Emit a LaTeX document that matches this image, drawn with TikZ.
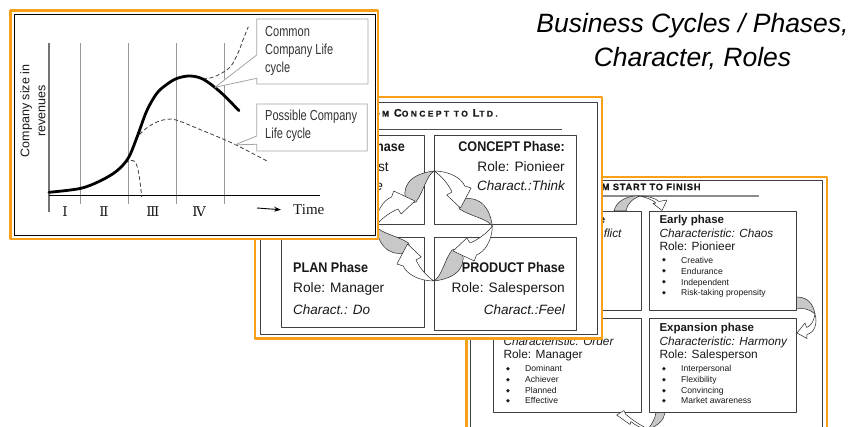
\documentclass[tikz,border=0pt]{standalone}
\usepackage{fontspec}
\setmainfont{Liberation Sans}
\newfontfamily\serifface{Liberation Serif}
\newfontfamily\numeralface{DejaVu Serif}
\newfontfamily\narrowface[FakeStretch=0.76]{Liberation Sans}
\newfontfamily\phaseface[FakeStretch=0.9]{Liberation Sans}
\newfontfamily\capsface[LetterSpace=8,BoldFeatures={FakeBold=0.6}]{Liberation Sans}
\newfontfamily\widecapsface[LetterSpace=28,BoldFeatures={FakeBold=0.8}]{Liberation Sans}
\newfontfamily\symface{DejaVu Sans}
\usetikzlibrary{arrows.meta}
\newcommand\pxfont[1]{\fontsize{#1}{#1}\selectfont}

\definecolor{frameorange}{RGB}{249,160,27}
\definecolor{bandgray}{RGB}{200,200,200}
\definecolor{textdark}{RGB}{25,25,25}
\definecolor{calloutgray}{RGB}{165,165,165}

\tikzset{
  panelframe/.style={draw=frameorange, line width=2.4pt, fill=white},
  panelinner/.style={draw=black!75, line width=0.9pt},
  phasebox/.style={draw=black!75, line width=0.9pt, fill=white},
  txt/.style={inner sep=0pt, text=textdark},
  ribbonback/.style={draw=black!85, line width=0.5pt, fill=bandgray},
  ribbonfront/.style={draw=black!85, line width=0.5pt, fill=white},
  bulletmark/.style={inner sep=0pt, text=textdark, font=\symface\pxfont{5}},
  itemtext/.style={inner sep=0pt, text=textdark, anchor=mid west, font=\pxfont{8.6}},
  gridline/.style={draw=black!40, line width=0.8pt},
  callout/.style={draw=calloutgray, line width=0.8pt, fill=white},
  growth/.style={line width=2.8pt, line cap=round},
  altpath/.style={draw=black!75, line width=0.8pt, dash pattern=on 4pt off 2.5pt},
  numeral/.style={inner sep=0pt, text=textdark, font=\numeralface\pxfont{13.5}}
}

% one quarter of the four-arrow cycle, drawn for the top-right quarter
\newcommand\cyclequarter[1]{%
  \begin{scope}[rotate=#1]
    \filldraw[ribbonback] (22,25) .. controls (38,32) and (52,24) .. (55,0)
      .. controls (49,8) and (36,9) .. (24,17) -- cycle;
    \filldraw[ribbonfront] (0,55) .. controls (14,55) and (26,48) .. (29,40)
      -- (35,38) -- (25,18) -- (12,31) -- (17,34)
      .. controls (13,43) and (6,51) .. (0,55) -- cycle;
  \end{scope}}

\newcommand\bulletitem[4]{%
  \node[bulletmark] (#1m) at (#2,#3) {◆};
  \node[itemtext] (#1) at (#2+17,#3) {#4};}

\begin{document}
\begin{tikzpicture}[x=1pt,y=-1pt,line join=round]
\useasboundingbox (0,0) rectangle (850,427);
\clip (0,0) rectangle (850,427);
\fill[white] (0,0) rectangle (850,427);

% ---------------- heading ----------------
\node[txt, anchor=base, font=\itshape\pxfont{26.5}, text=black] (head1) at (692.5,33) {Business Cycles / Phases,};
\node[txt, anchor=base, font=\itshape\pxfont{26.5}, text=black] (head2) at (692.5,66.5) {Character, Roles};

% ---------------- slide: from start to finish ----------------
\filldraw[panelframe] (466.5,177) rectangle (827,445);
\draw[panelinner] (470,180.7) rectangle (822.5,445);
\node[txt, anchor=mid east, font=\capsface\bfseries\pxfont{9.3}] (sfTitle) at (700.7,187.5) {FROM START TO FINISH};
\draw[draw=black!45, line width=1.6pt] (520,196) -- (759,196);

\draw[phasebox] (493.3,211) rectangle (641.7,310);
\draw[phasebox] (649.3,211.7) rectangle (796.7,310);
\draw[phasebox] (493.3,318.3) rectangle (641.7,412.7);
\draw[phasebox] (649.3,318.3) rectangle (796.7,412.7);

\node[txt, anchor=mid east, font=\bfseries\pxfont{11.5}] (dcTitle) at (605.5,221) {Decline phase};
\node[txt, anchor=mid east, font=\itshape\pxfont{11.8}] (dcChar) at (621.7,235) {Characteristic: Conflict};

\node[txt, anchor=mid west, font=\bfseries\pxfont{11.5}] (epTitle) at (659.3,221) {Early phase};
\node[txt, anchor=mid west, font=\itshape\pxfont{11.8}] (epChar) at (659.3,235) {Characteristic: Chaos};
\node[txt, anchor=mid west, font=\pxfont{11.9}] (epRole) at (659.3,248.3) {Role: Pionieer};
\bulletitem{ep1}{664}{260.7}{Creative}
\bulletitem{ep2}{664}{271.7}{Endurance}
\bulletitem{ep3}{664}{282.7}{Independent}
\bulletitem{ep4}{664}{293.3}{Risk-taking propensity}

\node[txt, anchor=mid west, font=\bfseries\pxfont{11.5}] (xpTitle) at (659.3,329) {Expansion phase};
\node[txt, anchor=mid west, font=\itshape\pxfont{11.8}] (xpChar) at (659.3,342.7) {Characteristic: Harmony};
\node[txt, anchor=mid west, font=\pxfont{11.9}] (xpRole) at (659.3,356) {Role: Salesperson};
\bulletitem{xp1}{664}{368.7}{Interpersonal}
\bulletitem{xp2}{664}{379.7}{Flexibility}
\bulletitem{xp3}{664}{390.7}{Convincing}
\bulletitem{xp4}{664}{401}{Market awareness}

\node[txt, anchor=mid west, font=\itshape\pxfont{11.8}] (mgChar) at (503.3,342.7) {Characteristic: Order};
\node[txt, anchor=mid west, font=\pxfont{11.9}] (mgRole) at (503.3,356) {Role: Manager};
\bulletitem{mg1}{508}{368.7}{Dominant}
\bulletitem{mg2}{508}{379.7}{Achiever}
\bulletitem{mg3}{508}{390.7}{Planned}
\bulletitem{mg4}{508}{401}{Effective}

% small turning arrows between the phases
\filldraw[ribbonback] (614,211) .. controls (616,201) and (628,195) .. (640,196)
  .. controls (632,199) and (627,204) .. (626,211) -- cycle;
\filldraw[ribbonfront] (640,196) .. controls (648,196) and (655,198) .. (659,201.5)
  -- (667,200) -- (662,210.5) -- (653,203.5) -- (656,203)
  .. controls (652,199.5) and (646,197.5) .. (640,196) -- cycle;
\filldraw[ribbonback] (796.7,297) .. controls (807,297) and (813,303) .. (815,314)
  .. controls (808,308) and (802,308) .. (796.7,309) -- cycle;
\filldraw[ribbonfront] (815,314) .. controls (814,321) and (811,326) .. (806.5,327.5)
  -- (805,323) -- (797,333) -- (807,338.5) -- (806.8,334.5)
  .. controls (814,333) and (818,324) .. (815,314) -- cycle;
\filldraw[ribbonback] (665,412.7) .. controls (664,420) and (658,426) .. (648,429)
  .. controls (652,424) and (655,419) .. (656,412.7) -- cycle;
\filldraw[ribbonfront] (648,429) .. controls (641,429) and (635,425) .. (631,421.5)
  -- (630,424.5) -- (616.7,415) -- (624,410.5) -- (625.5,414)
  .. controls (632,420) and (640,425) .. (648,429) -- cycle;

% ---------------- slide: from concept to Ltd. ----------------
\filldraw[panelframe] (255,97) rectangle (601.7,338.3);
\draw[panelinner] (260.5,102.5) rectangle (597.5,334.3);
\node[txt, anchor=mid east, font=\widecapsface\bfseries] (ccTitle) at (498,114)
  {\pxfont{11}F\pxfont{8.5}ROM \pxfont{11}C\pxfont{8.5}ONCEPT TO \pxfont{11}L\pxfont{8.5}TD.};
\draw[draw=black!70, line width=0.9pt] (300,129.3) -- (561.7,129.3);

\draw[phasebox] (281.7,135.7) rectangle (424.3,224.3);
\draw[phasebox] (434.3,135.7) rectangle (576,224.3);
\draw[phasebox] (281.7,237.7) rectangle (424.3,327.7);
\draw[phasebox] (434.3,237.7) rectangle (576,330);

\node[txt, anchor=mid east, font=\phaseface\bfseries\pxfont{14}] (idTitle) at (405,149.3) {IDEA Phase};
\node[txt, anchor=mid east, font=\pxfont{13.7}] (idRole) at (389,169.3) {Role: Idealist};
\node[txt, anchor=mid east, font=\itshape\pxfont{13.5}] (idChar) at (383,187.7) {Charact.: Imagine};

\node[txt, anchor=mid east, font=\phaseface\bfseries\pxfont{14}] (coTitle) at (565,149.3) {CONCEPT Phase:};
\node[txt, anchor=mid east, font=\pxfont{13.7}] (coRole) at (565,169.3) {Role: Pionieer};
\node[txt, anchor=mid east, font=\itshape\pxfont{13.5}] (coChar) at (565,187.7) {Charact.:Think};

\node[txt, anchor=mid west, font=\phaseface\bfseries\pxfont{14}] (plTitle) at (293,270) {PLAN Phase};
\node[txt, anchor=mid west, font=\pxfont{13.7}] (plRole) at (293,290) {Role: Manager};
\node[txt, anchor=mid west, font=\itshape\pxfont{13.5}] (plChar) at (293,311.7) {Charact.: Do};

\node[txt, anchor=mid east, font=\phaseface\bfseries\pxfont{14}] (prTitle) at (565,270) {PRODUCT Phase};
\node[txt, anchor=mid east, font=\pxfont{13.7}] (prRole) at (565,290) {Role: Salesperson};
\node[txt, anchor=mid east, font=\itshape\pxfont{13.5}] (prChar) at (565,311.7) {Charact.:Feel};

% four-arrow cycle around the centre of the grid
\begin{scope}[shift={(434,226)}, x=1pt, y=1pt, xscale=1.06]
  \cyclequarter{0}
  \cyclequarter{90}
  \cyclequarter{180}
  \cyclequarter{270}
\end{scope}

% ---------------- slide: company life cycle chart ----------------
\filldraw[panelframe] (10.5,10.5) rectangle (377.8,238.8);
\draw[draw=black, line width=0.9pt] (14,14.3) rectangle (375.5,235.5);

\foreach \gx in {80.3,128.3,176.7,224.3}
  \draw[gridline] (\gx,43) -- (\gx,204);
\draw[draw=black!55, line width=1.2pt] (49,43) -- (49,212);
\draw[draw=black, line width=0.9pt] (49,195) -- (320,195);

\node[txt, rotate=90, align=center, font=\fontsize{12.5}{16}\selectfont] (ylabel) at (33,111) {Company size in\\revenues};

\node[numeral] (ph1) at (65,212) {Ⅰ};
\node[numeral] (ph2) at (104,212) {Ⅱ};
\node[numeral] (ph3) at (153,212) {Ⅲ};
\node[numeral] (ph4) at (199,212) {Ⅳ};
\coordinate (tailT) at (257,208);
\node[txt, anchor=mid west, font=\serifface\pxfont{15}] (timeLbl) at (293,212) {Time};
\draw[line width=0.9pt, -{Stealth[length=7pt,width=5pt]}] (tailT) -- (timeLbl.west -| 281,208);

\draw[altpath] plot[smooth, tension=0.6] coordinates {(203,79) (212,77.5) (222,73) (231,66) (238,53) (243,40) (248.3,26.7)};
\draw[altpath] plot[smooth, tension=0.6] coordinates {(135,139) (146,128.5) (157,122) (167,119.3) (177,120.3) (200,129.5) (233,143.5) (268.3,161.7)};
\draw[altpath] plot[smooth, tension=0.6] coordinates {(125,163) (131,160.5) (135.5,162.5) (138.5,172) (140.5,186) (141.7,197)};
\draw[growth] plot[smooth, tension=0.55] coordinates {(49,192.3) (80,188.5) (100,181) (116.7,171) (128.3,158) (136.7,138) (146.7,111) (156.7,93.5) (166,85) (176.7,78.5) (190,76) (203.3,79.3) (220,91.7) (239,110.7)};

\filldraw[callout] (256.7,19) -- (368,19) -- (368,84) -- (256.7,84) -- (256.7,78.3) -- (215,87.3) -- (256.7,55) -- cycle;
\filldraw[callout] (256.7,104) -- (367.3,104) -- (367.3,151) -- (256.7,151) -- (256.7,144.3) -- (235,144.8) -- (256.7,136) -- cycle;
\node[txt, anchor=mid west, font=\narrowface\pxfont{14.5}, text=black!80] (cc1) at (265,34) {Common};
\node[txt, anchor=mid west, font=\narrowface\pxfont{14.5}, text=black!80] (cc2) at (265,52.3) {Company Life};
\node[txt, anchor=mid west, font=\narrowface\pxfont{14.5}, text=black!80] (cc3) at (265,70) {cycle};
\node[txt, anchor=mid west, font=\narrowface\pxfont{14.5}, text=black!80] (pc1) at (265,118.3) {Possible Company};
\node[txt, anchor=mid west, font=\narrowface\pxfont{14.5}, text=black!80] (pc2) at (265,136) {Life cycle};
\end{tikzpicture}
\end{document}
